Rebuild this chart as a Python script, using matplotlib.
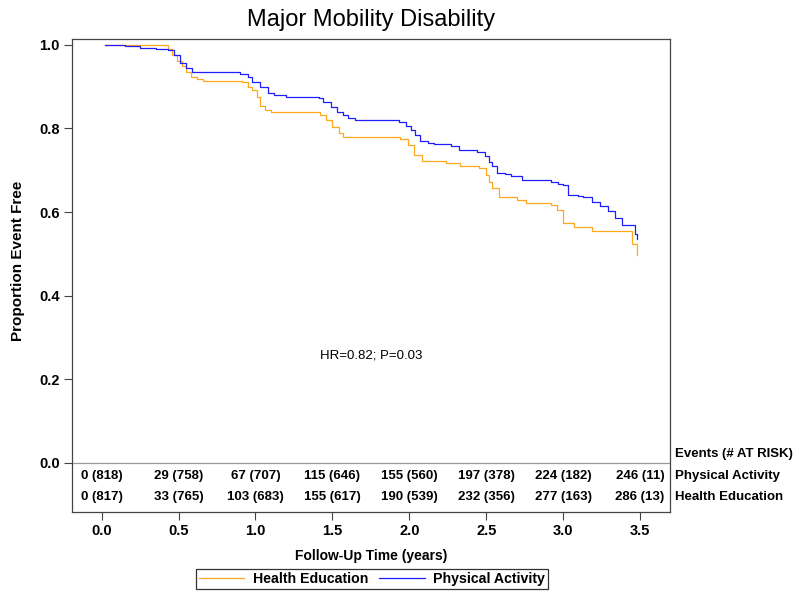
import matplotlib
matplotlib.use("Agg")
import matplotlib.pyplot as plt

plt.rcParams['font.family'] = ['Liberation Sans', 'DejaVu Sans']

# Kaplan-Meier curves (time in years, proportion event free)
pa_time = [0.02, 0.15, 0.25, 0.35, 0.43, 0.47, 0.51, 0.55, 0.59, 0.90, 0.95, 0.98,
           1.03, 1.08, 1.12, 1.20, 1.41, 1.44, 1.49, 1.53, 1.57, 1.60, 1.65, 1.93,
           1.98, 2.01, 2.04, 2.07, 2.12, 2.16, 2.27, 2.32, 2.44, 2.49, 2.52, 2.54,
           2.57, 2.62, 2.66, 2.73, 2.92, 2.97, 3.00, 3.03, 3.10, 3.13, 3.19, 3.24,
           3.29, 3.34, 3.38, 3.47, 3.48]
pa_surv = [1.0, 0.996, 0.993, 0.990, 0.988, 0.975, 0.956, 0.945, 0.935, 0.930, 0.924, 0.912,
           0.900, 0.884, 0.879, 0.875, 0.872, 0.864, 0.852, 0.840, 0.832, 0.825, 0.821, 0.815,
           0.805, 0.797, 0.785, 0.770, 0.765, 0.762, 0.759, 0.749, 0.743, 0.733, 0.720, 0.709,
           0.693, 0.690, 0.687, 0.677, 0.672, 0.668, 0.665, 0.641, 0.638, 0.636, 0.625, 0.615,
           0.603, 0.585, 0.569, 0.548, 0.535]

he_time = [0.02, 0.43, 0.46, 0.49, 0.52, 0.55, 0.58, 0.62, 0.66, 0.91, 0.95, 0.98,
           1.01, 1.03, 1.06, 1.10, 1.42, 1.46, 1.50, 1.54, 1.57, 1.94, 1.99, 2.03,
           2.08, 2.24, 2.33, 2.45, 2.50, 2.52, 2.54, 2.58, 2.70, 2.76, 2.92, 2.96,
           3.00, 3.07, 3.19, 3.45, 3.48]
he_surv = [1.0, 0.99, 0.976, 0.960, 0.948, 0.935, 0.924, 0.918, 0.914, 0.910, 0.900, 0.892,
           0.875, 0.854, 0.845, 0.839, 0.833, 0.820, 0.803, 0.790, 0.779, 0.774, 0.761, 0.737,
           0.722, 0.717, 0.710, 0.706, 0.689, 0.672, 0.657, 0.637, 0.629, 0.621, 0.617, 0.605,
           0.573, 0.565, 0.555, 0.523, 0.498]

# risk table
risk_times = [0.0, 0.5, 1.0, 1.5, 2.0, 2.5, 3.0, 3.5]
pa_risk = ["0 (818)", "29 (758)", "67 (707)", "115 (646)", "155 (560)", "197 (378)", "224 (182)", "246 (11)"]
he_risk = ["0 (817)", "33 (765)", "103 (683)", "155 (617)", "190 (539)", "232 (356)", "277 (163)", "286 (13)"]

orange = '#FFA81E'
blue = '#1E1EFF'

fig = plt.figure(figsize=(8, 5.98), dpi=100)
ax = fig.add_axes([0.09, 0.144, 0.7475, 0.791])

ax.step(he_time, he_surv, where='post', color=orange, lw=0.9, label='Health Education')
ax.step(pa_time, pa_surv, where='post', color=blue, lw=0.9, label='Physical Activity')

ax.set_xlim(-0.193, 3.695)
ax.set_ylim(-0.117, 1.014)
ax.set_xticks(risk_times)
ax.set_yticks([0.0, 0.2, 0.4, 0.6, 0.8, 1.0])
ax.set_xticklabels([f"{t:.1f}" for t in risk_times], fontweight='bold', fontsize=10.5)
ax.set_yticklabels([f"{v:.1f}" for v in [0.0, 0.2, 0.4, 0.6, 0.8, 1.0]], fontweight='bold', fontsize=10.5)
ax.tick_params(direction='out', length=6, width=0.8, color='#444444', pad=3)
for s in ax.spines.values():
    s.set_color('#444444')
    s.set_linewidth(0.9)

ax.axhline(0, color='#999999', lw=0.9)

row_pa, row_he = -0.031, -0.081
for t, a, b in zip(risk_times, pa_risk, he_risk):
    ax.text(t, row_pa, a, ha='center', va='center', fontsize=9.5, fontweight='bold')
    ax.text(t, row_he, b, ha='center', va='center', fontsize=9.5, fontweight='bold')

tr = ax.get_yaxis_transform()
ax.text(1.008, 0.021, "Events (# AT RISK)", transform=tr, ha='left', va='center', fontsize=9.5, fontweight='bold')
ax.text(1.008, row_pa, "Physical Activity", transform=tr, ha='left', va='center', fontsize=9.5, fontweight='bold')
ax.text(1.008, row_he, "Health Education", transform=tr, ha='left', va='center', fontsize=9.5, fontweight='bold')

ax.text(1.75, 0.258, "HR=0.82; P=0.03", ha='center', va='center', fontsize=9.5)

ax.set_title("Major Mobility Disability", fontsize=17, pad=9)
ax.set_ylabel("Proportion Event Free", fontsize=11, fontweight='bold')
ax.yaxis.set_label_coords(-0.079, 0.53)
ax.set_xlabel("Follow-Up Time (years)", fontsize=10, fontweight='bold', labelpad=8)

leg = fig.legend(loc='center', bbox_to_anchor=(372 / 800, 1 - 579 / 598), ncol=2,
                 prop={'weight': 'bold', 'size': 10.2}, frameon=True, fancybox=False,
                 handlelength=3.2, columnspacing=0.8, handletextpad=0.6,
                 borderpad=0.2, borderaxespad=0)
leg.get_frame().set_edgecolor('black')
leg.get_frame().set_linewidth(0.9)

fig.savefig("out.png", dpi=100)
